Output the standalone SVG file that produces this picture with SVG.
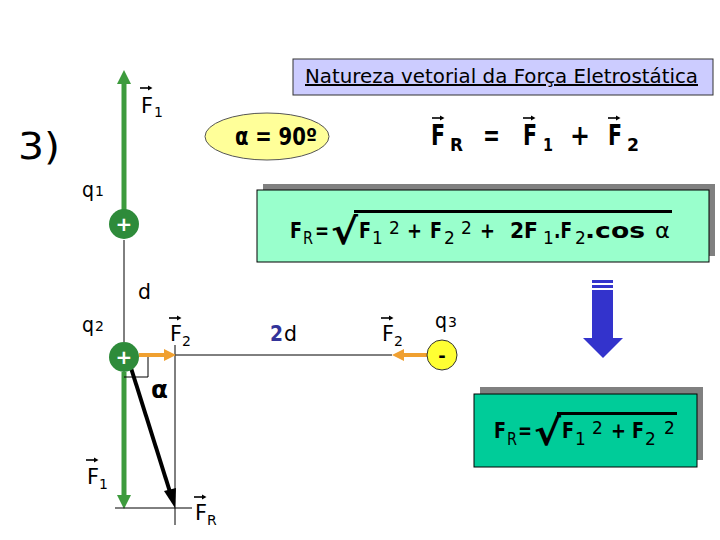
<svg xmlns="http://www.w3.org/2000/svg" xmlns:xlink="http://www.w3.org/1999/xlink" width="720" height="540" viewBox="0 0 720 540">
<style>
text{font-family:"DejaVu Sans","Liberation Sans",sans-serif;fill:#000}
.lb{font-size:22px}
.sub{font-size:14px}
.fb{font-size:21px;font-weight:bold}
.fs{font-size:17px}
.big{font-size:29px;font-weight:bold}
.bigs{font-size:18px;font-weight:bold}
.thin{stroke:#000;stroke-width:1;fill:none}
.grn{stroke:#3d9b3d;stroke-width:5;fill:none}
.org{stroke:#f0a030;stroke-width:4;fill:none}
</style>
<defs>
<g id="vec"><path d="M0,0H9" stroke="#000" stroke-width="1.6"/><path d="M8,-2.6L12.5,0L8,2.6Z" fill="#000"/></g>
</defs>
<rect width="720" height="540" fill="#fff"/>

<g id="title">
<rect x="293" y="59" width="420" height="36" fill="#ccccff" stroke="#333" stroke-width="1"/>
<text x="305" y="83" font-size="20" textLength="393" lengthAdjust="spacingAndGlyphs" text-decoration="underline">Natureza vetorial da Força Eletrostática</text>
</g>

<g id="num"><text x="18" y="159" font-size="38" textLength="42" lengthAdjust="spacingAndGlyphs">3)</text></g>

<g id="alpha-ellipse">
<ellipse cx="267" cy="136.5" rx="62" ry="23.5" fill="#ffff99" stroke="#555" stroke-width="1"/>
<text x="235" y="145" font-size="24" font-weight="bold" textLength="82" lengthAdjust="spacingAndGlyphs">α = 90º</text>
</g>

<g id="vector-sum">
<use xlink:href="#vec" x="432" y="118"/><use xlink:href="#vec" x="523" y="118"/><use xlink:href="#vec" x="608" y="118"/>
<text class="big" x="431" y="145" textLength="14" lengthAdjust="spacingAndGlyphs">F</text>
<text class="bigs" x="450" y="151" textLength="13" lengthAdjust="spacingAndGlyphs">R</text>
<text class="big" x="483" y="145" textLength="17" lengthAdjust="spacingAndGlyphs">=</text>
<text class="big" x="523" y="145" textLength="14" lengthAdjust="spacingAndGlyphs">F</text>
<text class="bigs" x="543" y="151" textLength="10" lengthAdjust="spacingAndGlyphs">1</text>
<text class="big" x="570" y="145" textLength="20" lengthAdjust="spacingAndGlyphs">+</text>
<text class="big" x="608" y="145" textLength="14" lengthAdjust="spacingAndGlyphs">F</text>
<text class="bigs" x="627" y="151" textLength="12" lengthAdjust="spacingAndGlyphs">2</text>
</g>

<g id="formula-general">
<rect x="263" y="184" width="452" height="72" fill="#808080"/>
<rect x="257" y="190" width="452" height="72" fill="#99ffcc" stroke="#000" stroke-width="1"/>
<text class="fb" x="290" y="238" textLength="12" lengthAdjust="spacingAndGlyphs">F</text>
<text class="fs" x="303" y="244" textLength="10" lengthAdjust="spacingAndGlyphs">R</text>
<text class="fb" x="315" y="238" textLength="14" lengthAdjust="spacingAndGlyphs">=</text>
<text x="331" y="244" font-size="36" font-weight="bold" textLength="27" lengthAdjust="spacingAndGlyphs">√</text>
<line x1="354" y1="211.5" x2="672" y2="211.5" stroke="#000" stroke-width="3"/>
<text class="fb" x="359" y="238" textLength="12" lengthAdjust="spacingAndGlyphs">F</text>
<text class="fs" x="372" y="244">1</text>
<text class="fs" x="389" y="234">2</text>
<text class="fb" x="407" y="238" textLength="15" lengthAdjust="spacingAndGlyphs">+</text>
<text class="fb" x="430" y="238" textLength="12" lengthAdjust="spacingAndGlyphs">F</text>
<text class="fs" x="444" y="244">2</text>
<text class="fs" x="461" y="234">2</text>
<text class="fb" x="480" y="238" textLength="15" lengthAdjust="spacingAndGlyphs">+</text>
<text class="fb" x="510" y="238" textLength="28" lengthAdjust="spacingAndGlyphs">2F</text>
<text class="fs" x="543" y="244">1</text>
<text class="fb" x="554" y="238" textLength="18" lengthAdjust="spacingAndGlyphs">.F</text>
<text class="fs" x="575" y="244">2</text>
<text class="fb" x="585" y="238" textLength="60" lengthAdjust="spacingAndGlyphs">.cos</text>
<text x="655" y="238" font-size="22" textLength="15" lengthAdjust="spacingAndGlyphs">α</text>
</g>

<g id="arrow-down">
<rect x="592" y="280" width="21" height="3" fill="#3333cc"/>
<rect x="592" y="285" width="21" height="3" fill="#3333cc"/>
<rect x="592" y="290" width="21" height="48" fill="#3333cc"/>
<polygon points="583,338 623,338 603,358" fill="#3333cc"/>
</g>

<g id="formula-90">
<rect x="480" y="387" width="223" height="73" fill="#808080"/>
<rect x="474" y="394" width="223" height="73" fill="#00cc99" stroke="#000" stroke-width="1"/>
<text class="fb" x="494" y="438" textLength="12" lengthAdjust="spacingAndGlyphs">F</text>
<text class="fs" x="507" y="445" textLength="10" lengthAdjust="spacingAndGlyphs">R</text>
<text class="fb" x="518" y="438" textLength="14" lengthAdjust="spacingAndGlyphs">=</text>
<text x="534" y="445" font-size="36" font-weight="bold" textLength="27" lengthAdjust="spacingAndGlyphs">√</text>
<line x1="557" y1="413.5" x2="677" y2="413.5" stroke="#000" stroke-width="3"/>
<text class="fb" x="562" y="438" textLength="12" lengthAdjust="spacingAndGlyphs">F</text>
<text class="fs" x="575" y="445">1</text>
<text class="fs" x="592" y="434">2</text>
<text class="fb" x="611" y="438" textLength="15" lengthAdjust="spacingAndGlyphs">+</text>
<text class="fb" x="632" y="438" textLength="12" lengthAdjust="spacingAndGlyphs">F</text>
<text class="fs" x="645" y="445">2</text>
<text class="fs" x="664" y="434">2</text>
</g>

<g id="connectors">
<line x1="124" y1="82" x2="124" y2="210" class="grn"/>
<polygon points="124,70 117,84 131,84" fill="#3d9b3d"/>
<line x1="124" y1="240" x2="124" y2="342" class="thin"/>
<line x1="124" y1="372" x2="124" y2="498" class="grn"/>
<polygon points="124,509 117,495 131,495" fill="#3d9b3d"/>
<line x1="115" y1="508" x2="192" y2="508" class="thin"/>
<line x1="175" y1="345" x2="175" y2="525" class="thin"/>
<line x1="175" y1="355" x2="392" y2="355" class="thin"/>
<path d="M124,377H148V355" class="thin"/>
<line x1="139" y1="355" x2="166" y2="355" class="org"/>
<polygon points="176,355 164,349 164,361" fill="#f0a030"/>
<line x1="427" y1="355" x2="402" y2="355" class="org"/>
<polygon points="392,355 404,349 404,361" fill="#f0a030"/>
<line x1="131" y1="368" x2="170" y2="492" stroke="#000" stroke-width="4"/>
<polygon points="175,508 164,491 176,488" fill="#000"/>
</g>

<g id="q1">
<circle cx="124" cy="224" r="15" fill="#2e8b3a"/>
<text x="124" y="231" font-size="20" font-weight="bold" style="fill:#fff" text-anchor="middle">+</text>
<text class="lb" x="82" y="197" textLength="12" lengthAdjust="spacingAndGlyphs">q</text>
<text class="sub" x="95" y="196">1</text>
</g>

<g id="q2">
<circle cx="124" cy="357" r="15" fill="#2e8b3a"/>
<text x="124" y="364" font-size="20" font-weight="bold" style="fill:#fff" text-anchor="middle">+</text>
<text class="lb" x="82" y="332" textLength="12" lengthAdjust="spacingAndGlyphs">q</text>
<text class="sub" x="95" y="331">2</text>
</g>

<g id="q3">
<circle cx="442" cy="355" r="15" fill="#ffff33" stroke="#333" stroke-width="1"/>
<text x="442" y="362" font-size="18" font-weight="bold" text-anchor="middle">-</text>
<text class="lb" x="435" y="328" textLength="12" lengthAdjust="spacingAndGlyphs">q</text>
<text class="sub" x="448" y="327">3</text>
</g>

<g id="labels">
<use xlink:href="#vec" x="140" y="88"/>
<text class="lb" x="141" y="113" textLength="12" lengthAdjust="spacingAndGlyphs">F</text>
<text class="sub" x="154" y="117">1</text>
<text class="lb" x="138" y="299" textLength="13" lengthAdjust="spacingAndGlyphs">d</text>
<use xlink:href="#vec" x="169" y="318"/>
<text class="lb" x="170" y="341" textLength="12" lengthAdjust="spacingAndGlyphs">F</text>
<text class="sub" x="182" y="346">2</text>
<text x="270" y="341" font-size="22" font-weight="bold" style="fill:#333399" textLength="13" lengthAdjust="spacingAndGlyphs">2</text>
<text class="lb" x="284" y="341" textLength="13" lengthAdjust="spacingAndGlyphs">d</text>
<use xlink:href="#vec" x="381" y="318"/>
<text class="lb" x="382" y="341" textLength="12" lengthAdjust="spacingAndGlyphs">F</text>
<text class="sub" x="394" y="346">2</text>
<text x="151" y="398" font-size="24" font-weight="bold" textLength="17" lengthAdjust="spacingAndGlyphs">α</text>
<use xlink:href="#vec" x="86" y="460"/>
<text class="lb" x="87" y="484" textLength="12" lengthAdjust="spacingAndGlyphs">F</text>
<text class="sub" x="99" y="489">1</text>
<use xlink:href="#vec" x="194" y="497"/>
<text class="lb" x="195" y="520" textLength="12" lengthAdjust="spacingAndGlyphs">F</text>
<text class="sub" x="207" y="525">R</text>
</g>
</svg>
